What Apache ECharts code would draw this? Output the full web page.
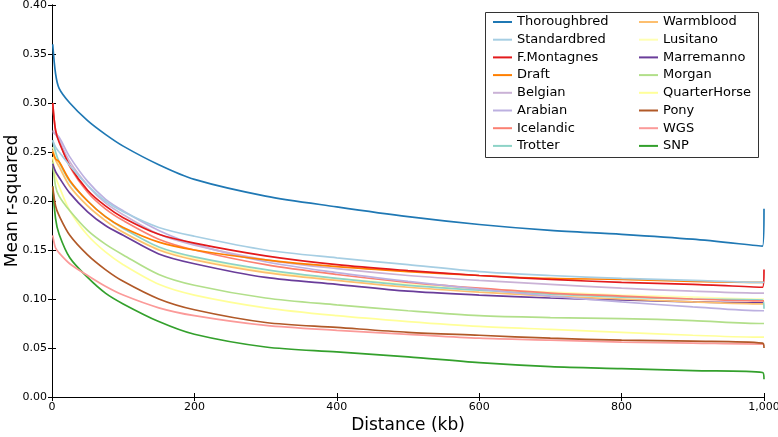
<!DOCTYPE html>
<html>
<head>
<meta charset="utf-8">
<script src="https://cdn.jsdelivr.net/npm/echarts@6/dist/echarts.min.js"></script>
<style>
  html, body { margin: 0; padding: 0; background: #fff; }
  #chart { width: 778px; height: 437px; }
</style>
</head>
<body>
<div id="chart"></div>
<script>
const distance = [1, 5, 10, 25, 50, 75, 100, 150, 200, 300, 400, 500, 600, 700, 800, 900, 998, 1000];

const breeds = [
  'Thoroughbred', 'Standardbred', 'F.Montagnes', 'Draft', 'Belgian', 'Arabian', 'Icelandic', 'Trotter',
  'Warmblood', 'Lusitano', 'Marremanno', 'Morgan', 'QuarterHorse', 'Pony', 'WGS', 'SNP'
];

const thoroughbred = [0.360, 0.330, 0.315, 0.300, 0.282, 0.268, 0.256, 0.237, 0.222, 0.205, 0.194, 0.184, 0.176, 0.170, 0.166, 0.161, 0.154, 0.192];
const standardbred = [0.262, 0.255, 0.250, 0.236, 0.216, 0.200, 0.189, 0.173, 0.164, 0.150, 0.142, 0.135, 0.128, 0.124, 0.121, 0.119, 0.117, 0.117];
const fMontagnes   = [0.300, 0.272, 0.260, 0.236, 0.211, 0.195, 0.183, 0.166, 0.157, 0.144, 0.135, 0.129, 0.124, 0.120, 0.117, 0.115, 0.112, 0.130];
const draft        = [0.250, 0.243, 0.240, 0.221, 0.200, 0.184, 0.173, 0.158, 0.150, 0.140, 0.133, 0.128, 0.124, 0.121, 0.120, 0.118, 0.117, 0.117];
const belgian      = [0.272, 0.268, 0.262, 0.240, 0.216, 0.198, 0.186, 0.166, 0.155, 0.140, 0.131, 0.124, 0.119, 0.115, 0.111, 0.108, 0.106, 0.106];
const arabian      = [0.270, 0.268, 0.265, 0.245, 0.220, 0.202, 0.190, 0.170, 0.156, 0.138, 0.127, 0.118, 0.110, 0.103, 0.097, 0.092, 0.088, 0.088];
const icelandic    = [0.300, 0.272, 0.262, 0.235, 0.209, 0.192, 0.180, 0.161, 0.150, 0.135, 0.125, 0.117, 0.111, 0.106, 0.103, 0.100, 0.098, 0.098];
const trotter      = [0.262, 0.250, 0.240, 0.220, 0.200, 0.184, 0.172, 0.153, 0.143, 0.130, 0.121, 0.114, 0.109, 0.105, 0.102, 0.100, 0.099, 0.090];
const warmblood    = [0.252, 0.242, 0.235, 0.215, 0.195, 0.180, 0.168, 0.150, 0.140, 0.127, 0.119, 0.112, 0.107, 0.103, 0.100, 0.097, 0.095, 0.095];
const lusitano     = [0.255, 0.245, 0.237, 0.215, 0.195, 0.180, 0.168, 0.151, 0.142, 0.128, 0.121, 0.115, 0.110, 0.107, 0.104, 0.102, 0.100, 0.100];
const marremanno   = [0.238, 0.230, 0.224, 0.208, 0.189, 0.175, 0.165, 0.146, 0.136, 0.122, 0.115, 0.108, 0.104, 0.101, 0.099, 0.097, 0.096, 0.096];
const morgan       = [0.240, 0.215, 0.205, 0.190, 0.170, 0.156, 0.145, 0.125, 0.114, 0.101, 0.094, 0.088, 0.083, 0.081, 0.080, 0.078, 0.075, 0.075];
const quarterHorse = [0.245, 0.225, 0.215, 0.190, 0.165, 0.148, 0.135, 0.115, 0.104, 0.091, 0.083, 0.077, 0.072, 0.069, 0.066, 0.063, 0.061, 0.061];
const pony         = [0.215, 0.195, 0.185, 0.165, 0.145, 0.130, 0.118, 0.100, 0.089, 0.076, 0.071, 0.066, 0.063, 0.060, 0.058, 0.057, 0.055, 0.050];
const wgs          = [0.165, 0.152, 0.147, 0.136, 0.124, 0.113, 0.104, 0.091, 0.083, 0.073, 0.068, 0.064, 0.060, 0.058, 0.056, 0.055, 0.054, 0.054];
const snp          = [0.215, 0.182, 0.166, 0.142, 0.122, 0.106, 0.095, 0.077, 0.064, 0.051, 0.046, 0.041, 0.035, 0.031, 0.029, 0.027, 0.025, 0.018];

const values = [thoroughbred, standardbred, fMontagnes, draft, belgian, arabian, icelandic, trotter,
  warmblood, lusitano, marremanno, morgan, quarterHorse, pony, wgs, snp];

const colors = ['#1f78b4', '#a6cee3', '#e31a1c', '#ff7f00', '#cab2d6', '#bcb0e0', '#fb8072', '#8dd3c7',
  '#fdbf6f', '#ffffb3', '#6a3d9a', '#b2df8a', '#ffff99', '#b15928', '#fb9a99', '#33a02c'];

const yTicks = ['0.00', '0.05', '0.10', '0.15', '0.20', '0.25', '0.30', '0.35', '0.40'];

const font = 'DejaVu Sans';

// draw the later rows first so the legend order's first series stays on top
const series = breeds.map((name, i) => ({
  name,
  type: 'line',
  data: distance.map((d, j) => [d, values[i][j]]),
  showSymbol: false,
  smooth: 0.3,
  color: colors[i],
  lineStyle: { width: 1.7 },
  z: 20 - i,
  animation: false,
}));

const legendBase = {
  orient: 'vertical',
  top: 15,
  padding: 0,
  icon: 'rect',
  itemWidth: 19,
  itemHeight: 2,
  itemGap: 3.7,
  itemTextGap: 12,
  textStyle: { fontFamily: font, fontSize: 13, color: '#000', lineHeight: 14 },
};

const plainAxis = {
  axisLine: { show: true, lineStyle: { color: '#000', width: 1 } },
  axisTick: { show: true, inside: true, length: 4, lineStyle: { color: '#000' } },
  splitLine: { show: false },
};

const chart = echarts.init(document.getElementById('chart'));
chart.setOption({
  backgroundColor: '#fff',
  animation: false,
  grid: { left: 52, right: 14, top: 5, bottom: 40, containLabel: false, outerBoundsMode: 'none' },
  xAxis: [
    {
      ...plainAxis,
      type: 'value', min: 0, max: 1000, interval: 200,
      name: 'Distance (kb)', nameLocation: 'middle', nameGap: 20, nameMoveOverlap: false,
      nameTextStyle: { fontFamily: font, fontSize: 17, color: '#000' },
      axisLabel: { fontFamily: font, fontSize: 11, color: '#000', margin: 5 },
    },
    {
      ...plainAxis,
      type: 'value', min: 0, max: 1000, interval: 200, position: 'top',
      axisLabel: { show: false },
    },
  ],
  yAxis: [
    {
      ...plainAxis,
      type: 'value', min: 0, max: 0.4, interval: 0.05,
      name: 'Mean r-squared', nameLocation: 'middle', nameGap: 31, nameMoveOverlap: false,
      nameTextStyle: { fontFamily: font, fontSize: 17, color: '#000' },
      axisLabel: {
        fontFamily: font, fontSize: 11, color: '#000', margin: 5,
        formatter: (v) => yTicks[Math.round(v / 0.05)],
      },
    },
    {
      ...plainAxis,
      type: 'value', min: 0, max: 0.4, interval: 0.05, position: 'right',
      axisLabel: { show: false },
    },
  ],
  legend: [
    { ...legendBase, left: 493, data: breeds.slice(0, 8) },
    { ...legendBase, left: 639, data: breeds.slice(8) },
  ],
  graphic: [
    {
      type: 'rect', left: 485, top: 12, z: 0,
      shape: { width: 273, height: 145 },
      style: { fill: '#fff', stroke: '#333', lineWidth: 1 },
      silent: true,
    },
  ],
  series,
});
</script>
</body>
</html>
